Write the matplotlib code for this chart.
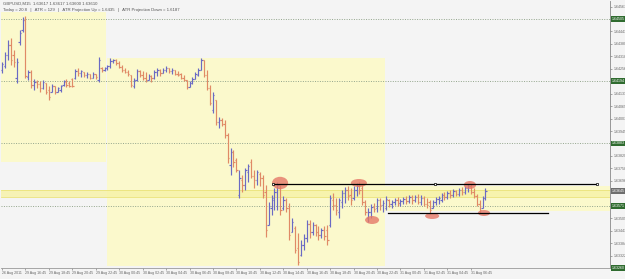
import numpy as np
import matplotlib.pyplot as plt
from matplotlib.collections import LineCollection
from matplotlib.patches import Rectangle, Ellipse
import matplotlib.transforms as mtransforms

plt.rcParams['font.family'] = ['Liberation Sans', 'DejaVu Sans']

# GBPUSD M15 bars
opens = [1.64250, 1.64270, 1.64325, 1.64375, 1.64325, 1.64210, 1.64390, 1.64450, 1.64500, 1.64215,
         1.64240, 1.64175, 1.64190, 1.64180, 1.64160, 1.64185, 1.64150, 1.64140, 1.64170, 1.64140,
         1.64150, 1.64175, 1.64190, 1.64185, 1.64205, 1.64210, 1.64245, 1.64235, 1.64240, 1.64225,
         1.64230, 1.64210, 1.64230, 1.64200, 1.64260, 1.64250, 1.64260, 1.64270, 1.64295, 1.64300,
         1.64285, 1.64265, 1.64250, 1.64240, 1.64225, 1.64170, 1.64200, 1.64245, 1.64225, 1.64210,
         1.64200, 1.64220, 1.64210, 1.64240, 1.64250, 1.64235, 1.64250, 1.64260, 1.64245, 1.64250,
         1.64230, 1.64230, 1.64210, 1.64200, 1.64165, 1.64185, 1.64205, 1.64225, 1.64250, 1.64300,
         1.64225, 1.64160, 1.64050, 1.64100, 1.63990, 1.64000, 1.63980, 1.63925, 1.63775, 1.63840,
         1.63800, 1.63625, 1.63700, 1.63675, 1.63740, 1.63790, 1.63720, 1.63700, 1.63730, 1.63710,
         1.63640, 1.63475, 1.63560, 1.63600, 1.63640, 1.63660, 1.63560, 1.63600, 1.63560, 1.63440,
         1.63460, 1.63360, 1.63325, 1.63375, 1.63410, 1.63480, 1.63440, 1.63475, 1.63440, 1.63425,
         1.63450, 1.63450, 1.63475, 1.63600, 1.63575, 1.63540, 1.63590, 1.63635, 1.63650, 1.63625,
         1.63610, 1.63650, 1.63670, 1.63660, 1.63590, 1.63510, 1.63540, 1.63565, 1.63560, 1.63600,
         1.63575, 1.63560, 1.63600, 1.63580, 1.63590, 1.63600, 1.63585, 1.63595, 1.63605, 1.63595,
         1.63615, 1.63600, 1.63615, 1.63590, 1.63610, 1.63580, 1.63590, 1.63560, 1.63590, 1.63605,
         1.63600, 1.63625, 1.63615, 1.63635, 1.63625, 1.63645, 1.63630, 1.63650, 1.63640, 1.63660,
         1.63670, 1.63640, 1.63620, 1.63580, 1.63560, 1.63610]
highs = [1.64290, 1.64340, 1.64400, 1.64410, 1.64350, 1.64310, 1.64450, 1.64515, 1.64520, 1.64250,
         1.64250, 1.64205, 1.64200, 1.64195, 1.64200, 1.64185, 1.64170, 1.64180, 1.64170, 1.64165,
         1.64175, 1.64200, 1.64205, 1.64195, 1.64210, 1.64255, 1.64260, 1.64250, 1.64240, 1.64240,
         1.64230, 1.64240, 1.64230, 1.64315, 1.64265, 1.64265, 1.64275, 1.64310, 1.64305, 1.64305,
         1.64295, 1.64275, 1.64260, 1.64250, 1.64225, 1.64210, 1.64255, 1.64250, 1.64245, 1.64240,
         1.64230, 1.64225, 1.64250, 1.64260, 1.64255, 1.64260, 1.64270, 1.64260, 1.64260, 1.64250,
         1.64245, 1.64235, 1.64225, 1.64200, 1.64195, 1.64215, 1.64240, 1.64260, 1.64310, 1.64300,
         1.64250, 1.64175, 1.64140, 1.64100, 1.64015, 1.64010, 1.64000, 1.63935, 1.63860, 1.63850,
         1.63810, 1.63750, 1.63725, 1.63760, 1.63780, 1.63805, 1.63750, 1.63750, 1.63740, 1.63725,
         1.63675, 1.63590, 1.63625, 1.63660, 1.63690, 1.63675, 1.63620, 1.63610, 1.63585, 1.63510,
         1.63470, 1.63435, 1.63400, 1.63430, 1.63500, 1.63500, 1.63490, 1.63480, 1.63470, 1.63460,
         1.63470, 1.63475, 1.63625, 1.63635, 1.63610, 1.63610, 1.63650, 1.63665, 1.63670, 1.63660,
         1.63670, 1.63685, 1.63690, 1.63675, 1.63600, 1.63560, 1.63580, 1.63585, 1.63610, 1.63610,
         1.63600, 1.63620, 1.63605, 1.63600, 1.63610, 1.63615, 1.63605, 1.63615, 1.63620, 1.63625,
         1.63625, 1.63625, 1.63630, 1.63625, 1.63620, 1.63610, 1.63600, 1.63600, 1.63615, 1.63620,
         1.63635, 1.63640, 1.63645, 1.63650, 1.63655, 1.63650, 1.63660, 1.63665, 1.63670, 1.63680,
         1.63680, 1.63660, 1.63630, 1.63600, 1.63620, 1.63660]
lows = [1.64235, 1.64260, 1.64300, 1.64275, 1.64265, 1.64185, 1.64375, 1.64440, 1.64210, 1.64200,
        1.64160, 1.64150, 1.64160, 1.64140, 1.64155, 1.64130, 1.64100, 1.64140, 1.64130, 1.64140,
        1.64140, 1.64170, 1.64165, 1.64165, 1.64165, 1.64205, 1.64220, 1.64215, 1.64215, 1.64210,
        1.64205, 1.64210, 1.64205, 1.64190, 1.64240, 1.64245, 1.64250, 1.64260, 1.64285, 1.64275,
        1.64260, 1.64240, 1.64235, 1.64220, 1.64165, 1.64160, 1.64195, 1.64215, 1.64200, 1.64190,
        1.64200, 1.64190, 1.64205, 1.64220, 1.64220, 1.64235, 1.64240, 1.64235, 1.64230, 1.64225,
        1.64220, 1.64205, 1.64195, 1.64155, 1.64165, 1.64180, 1.64205, 1.64220, 1.64250, 1.64215,
        1.64150, 1.64075, 1.64035, 1.63975, 1.63960, 1.63970, 1.63910, 1.63785, 1.63725, 1.63765,
        1.63740, 1.63610, 1.63640, 1.63650, 1.63690, 1.63710, 1.63660, 1.63675, 1.63670, 1.63610,
        1.63415, 1.63475, 1.63525, 1.63550, 1.63550, 1.63525, 1.63550, 1.63540, 1.63400, 1.63440,
        1.63335, 1.63275, 1.63320, 1.63350, 1.63390, 1.63410, 1.63425, 1.63420, 1.63400, 1.63410,
        1.63400, 1.63375, 1.63465, 1.63550, 1.63525, 1.63510, 1.63560, 1.63585, 1.63600, 1.63575,
        1.63600, 1.63620, 1.63630, 1.63575, 1.63525, 1.63490, 1.63510, 1.63540, 1.63540, 1.63550,
        1.63540, 1.63550, 1.63565, 1.63560, 1.63575, 1.63570, 1.63570, 1.63580, 1.63580, 1.63585,
        1.63580, 1.63590, 1.63580, 1.63575, 1.63570, 1.63560, 1.63530, 1.63560, 1.63575, 1.63580,
        1.63590, 1.63600, 1.63605, 1.63610, 1.63615, 1.63620, 1.63620, 1.63625, 1.63630, 1.63640,
        1.63630, 1.63610, 1.63570, 1.63535, 1.63560, 1.63600]
closes = [1.64280, 1.64325, 1.64375, 1.64300, 1.64290, 1.64290, 1.64435, 1.64500, 1.64220, 1.64240,
          1.64175, 1.64190, 1.64180, 1.64160, 1.64190, 1.64140, 1.64115, 1.64170, 1.64140, 1.64160,
          1.64170, 1.64195, 1.64175, 1.64170, 1.64170, 1.64245, 1.64235, 1.64245, 1.64225, 1.64230,
          1.64210, 1.64230, 1.64215, 1.64300, 1.64250, 1.64260, 1.64270, 1.64295, 1.64300, 1.64285,
          1.64265, 1.64250, 1.64240, 1.64230, 1.64175, 1.64200, 1.64245, 1.64225, 1.64210, 1.64200,
          1.64220, 1.64210, 1.64240, 1.64250, 1.64235, 1.64250, 1.64260, 1.64245, 1.64250, 1.64230,
          1.64225, 1.64210, 1.64200, 1.64165, 1.64185, 1.64205, 1.64230, 1.64250, 1.64300, 1.64225,
          1.64160, 1.64085, 1.64125, 1.63990, 1.64000, 1.63980, 1.63925, 1.63810, 1.63840, 1.63790,
          1.63750, 1.63710, 1.63675, 1.63750, 1.63770, 1.63720, 1.63700, 1.63740, 1.63710, 1.63625,
          1.63450, 1.63570, 1.63610, 1.63640, 1.63675, 1.63550, 1.63600, 1.63560, 1.63425, 1.63490,
          1.63350, 1.63290, 1.63375, 1.63410, 1.63480, 1.63440, 1.63475, 1.63440, 1.63425, 1.63450,
          1.63420, 1.63400, 1.63610, 1.63575, 1.63550, 1.63600, 1.63635, 1.63650, 1.63620, 1.63600,
          1.63650, 1.63670, 1.63650, 1.63590, 1.63540, 1.63540, 1.63565, 1.63555, 1.63600, 1.63575,
          1.63585, 1.63605, 1.63580, 1.63590, 1.63600, 1.63585, 1.63595, 1.63605, 1.63595, 1.63615,
          1.63600, 1.63615, 1.63590, 1.63610, 1.63580, 1.63575, 1.63550, 1.63590, 1.63605, 1.63610,
          1.63625, 1.63615, 1.63635, 1.63625, 1.63645, 1.63630, 1.63650, 1.63640, 1.63660, 1.63670,
          1.63640, 1.63620, 1.63580, 1.63550, 1.63610, 1.63645]

time_labels = ["26 Aug 2011", "29 Aug 16:45", "29 Aug 18:45", "29 Aug 20:45", "29 Aug 22:45",
               "30 Aug 00:45", "30 Aug 02:45", "30 Aug 04:45", "30 Aug 06:45", "30 Aug 08:45",
               "30 Aug 10:45", "30 Aug 12:45", "30 Aug 14:45", "30 Aug 16:45", "30 Aug 18:45",
               "30 Aug 20:45", "30 Aug 22:45", "31 Aug 00:45", "31 Aug 02:45", "31 Aug 04:45",
               "31 Aug 06:45"]
bars_per_label = 8

# dotted pivot/ATR levels
levels = [1.64505, 1.64194, 1.63883, 1.63571, 1.63260]
current_price = 1.63645

# session boxes (bar from, bar to, price low, price high)
box_starts = [-0.7, 35.8, 130.7]
box_ends = [35.5, 130.7, 208.0]
box_lows = [1.63790, 1.63270, 1.63545]
box_highs = [1.64540, 1.64310, 1.63670]
band_low, band_high = 1.63615, 1.63650

# trend lines (bar, price)
res_line = ([92.5, 147.8, 203.1], [1.63680, 1.63680, 1.63680])
sup_line = ([131.7, 186.3], [1.63535, 1.63535])

# highlighted swing points
mark_bars = [94.9, 121.8, 126.3, 146.8, 159.7, 164.5]
mark_prices = [1.63685, 1.63685, 1.63500, 1.63520, 1.63675, 1.63535]
mark_w = [5.5, 5.5, 4.8, 4.8, 4.2, 4.2]
mark_h = [0.00062, 0.00040, 0.00040, 0.00030, 0.00040, 0.00030]

header1 = "GBPUSD,M15  1.63617 1.63617 1.63600 1.63610"
header2 = "Today = 20.8   |   ATR = 129   |   ATR Projection Up = 1.6435   |   ATR Projection Down = 1.6187"

up_col = '#6a6ac4'
dn_col = '#e08a66'

fig = plt.figure(figsize=(6.25, 2.79), dpi=100, facecolor='#f4f4f4')
ax = fig.add_axes([1 / 625, 11 / 279, 609 / 625, 267 / 279])
ax.set_facecolor('#f4f4f4')
ax.set_xlim(-0.34, 207.5)
ax.set_ylim(1.63260, 1.64595)

for x0, x1, lo, hi in zip(box_starts, box_ends, box_lows, box_highs):
    ax.add_patch(Rectangle((x0, lo), x1 - x0, hi - lo, facecolor='#fbf9cc', edgecolor='none', zorder=0))
ax.axhspan(band_low, band_high, color='#f7f2a6', alpha=0.8, lw=0, zorder=1)
ax.axhline(band_low, color='#ebe37a', lw=0.6, zorder=1)
ax.axhline(band_high, color='#ebe37a', lw=0.6, zorder=1)

for lv in levels:
    ax.axhline(lv, color='#93a58c', lw=0.7, ls=(0, (1, 1.5)), zorder=1)

# OHLC bars
n = len(opens)
segs, cols = [], []
for i in range(n):
    c = up_col if closes[i] >= opens[i] else dn_col
    segs.append([(i, lows[i]), (i, highs[i])])
    segs.append([(i - 0.45, opens[i]), (i, opens[i])])
    segs.append([(i, closes[i]), (i + 0.45, closes[i])])
    cols += [c, c, c]
ax.add_collection(LineCollection(segs, colors=cols, linewidths=0.85, zorder=3))

# swing highlights
for bx, py, w, h in zip(mark_bars, mark_prices, mark_w, mark_h):
    ax.add_patch(Ellipse((bx, py), w, h, facecolor='#e57868', edgecolor='none', alpha=0.8, zorder=4))

ax.plot(res_line[0], res_line[1], color='black', lw=0.9, zorder=5)
ax.plot(res_line[0], res_line[1], 's', ms=1.6, mfc='white', mec='black', mew=0.5, zorder=6)
ax.plot(sup_line[0], sup_line[1], color='black', lw=0.9, zorder=5)

# price scale on the right; skip plain labels where a boxed one sits
ticks = levels[0] + 0.0006225 * np.arange(1, -21, -1)
boxed = levels + [current_price]
ax.yaxis.tick_right()
ax.set_yticks(ticks)
ax.set_yticklabels(["" if min(abs(t - b) for b in boxed) < 0.0003 else f"{t:.5f}" for t in ticks])
ax.tick_params(axis='y', labelsize=2.6, colors='#666666', length=1.5, width=0.4, pad=1)
trans = mtransforms.blended_transform_factory(ax.transAxes, ax.transData)
for lv in levels:
    ax.text(1.003, lv, f"{lv:.5f}", transform=trans, fontsize=2.6, color='white', va='center', ha='left',
            bbox=dict(boxstyle='square,pad=0.2', fc='#2f6b2f', ec='none'), zorder=7, clip_on=False)
ax.text(1.003, current_price, f"{current_price:.5f}", transform=trans, fontsize=2.6, color='white',
        va='center', ha='left', bbox=dict(boxstyle='square,pad=0.2', fc='#6e6e6e', ec='none'),
        zorder=7, clip_on=False)

# time scale
ax.set_xticks(np.arange(len(time_labels)) * bars_per_label)
ax.set_xticklabels(time_labels, ha='left')
ax.tick_params(axis='x', labelsize=2.6, colors='#666666', length=1.5, width=0.4, pad=1)

for s in ['left', 'top']:
    ax.spines[s].set_visible(False)
ax.spines['right'].set_color('#888888')
ax.spines['right'].set_linewidth(0.6)
ax.spines['bottom'].set_color('#999999')
ax.spines['bottom'].set_linewidth(0.6)
ax.spines['bottom'].set_linestyle((0, (1, 1)))

fig.text(3 / 625, 1 - 4 / 279, header1, fontsize=3.1, color='#555555', va='center', ha='left')
fig.text(3 / 625, 1 - 9.5 / 279, header2, fontsize=3.1, color='#555555', va='center', ha='left')

fig.savefig('out.png', dpi=100, facecolor=fig.get_facecolor())
